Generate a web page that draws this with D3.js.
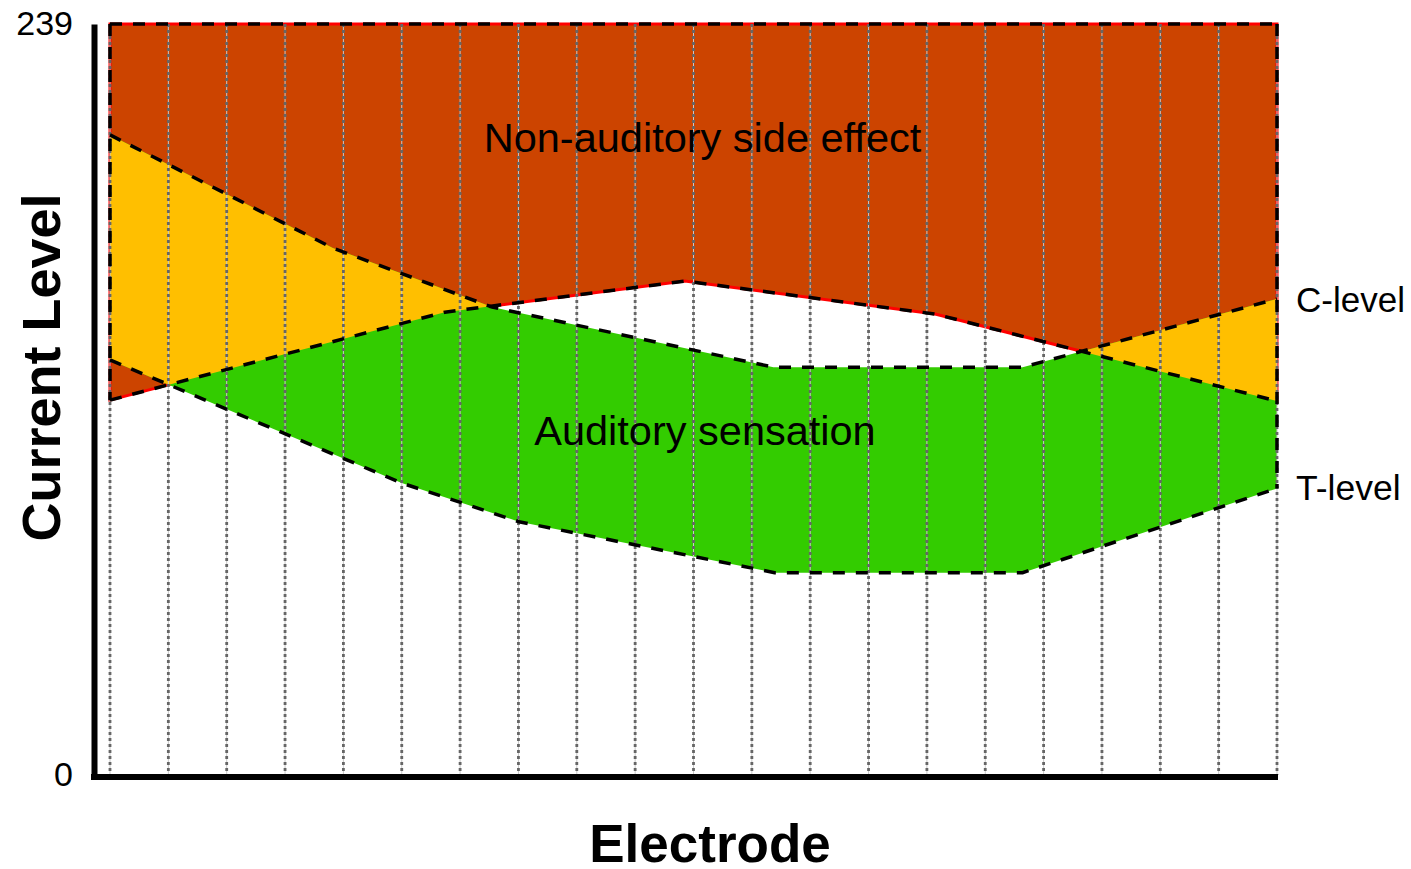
<!DOCTYPE html>
<html>
<head>
<meta charset="utf-8">
<script src="https://cdn.jsdelivr.net/npm/d3@7"></script>
<style>
  html, body { margin: 0; padding: 0; background: #fff; }
  svg { display: block; font-family: "Liberation Sans", Arial, sans-serif; }
</style>
</head>
<body>
<svg id="chart" width="1411" height="869"></svg>
<script>
// ---- data ----
const electrodes = d3.range(1, 22);           // 21 electrodes
const yTicks = [0, 239];
// C-level (comfort level) vertices: [electrode, current level]
const cLevel = [[1, 203.7], [4.82, 167.7], [7.55, 148.9], [12.37, 129.8], [16.64, 129.8], [21, 151.5]];
// T-level (threshold) vertices
const tLevel = [[1, 132.1], [6.0, 92.9], [8.01, 80.6], [12.39, 64.4], [16.64, 64.4], [21, 91.2]];
// Non-auditory side-effect threshold vertices
const sLevel = [[1, 119.3], [6.74, 147.3], [10.85, 157.2], [15.14, 146.7], [21, 119.0]];
const maxLevel = 239;
const labels = { y: "Current Level", x: "Electrode", top: "Non-auditory side effect", mid: "Auditory sensation", c: "C-level", t: "T-level" };

// ---- setup ----
const svg = d3.select("#chart");
const x = d3.scaleLinear().domain([1, 21]).range([110, 1277]);
const y = d3.scaleLinear().domain([0, 239]).range([775, 24]);

const line = d3.line().x(d => x(d[0])).y(d => y(d[1]));

const RED = "#CC4400", YELLOW = "#FFBF00", GREEN = "#33CC00";

// red region: above side-effect threshold
const redPoly = [[1, maxLevel], ...sLevel, [21, maxLevel]];
const redPath = line(redPoly) + "Z";
// auditory band between T and C
const bandPoly = [...cLevel, ...tLevel.slice().reverse()];
const bandPath = line(bandPoly) + "Z";

const defs = svg.append("defs");
defs.append("clipPath").attr("id", "redClip").append("path").attr("d", redPath);

svg.append("path").attr("d", redPath).attr("fill", RED)
  .attr("stroke", "#FF0000").attr("stroke-width", 3);
svg.append("path").attr("d", bandPath).attr("fill", GREEN);
svg.append("path").attr("d", bandPath).attr("fill", YELLOW).attr("clip-path", "url(#redClip)");

// vertical electrode grid
const grid = svg.append("g");
grid.selectAll("line.bg").data(electrodes).join("line")
  .attr("class", "bg")
  .attr("x1", d => x(d)).attr("x2", d => x(d))
  .attr("y1", y(maxLevel)).attr("y2", y(0))
  .attr("stroke", "#c8c8c8").attr("stroke-width", 1);
grid.selectAll("line.dot").data(electrodes).join("line")
  .attr("class", "dot")
  .attr("x1", d => x(d)).attr("x2", d => x(d))
  .attr("y1", y(maxLevel)).attr("y2", y(0))
  .attr("stroke", "#666666").attr("stroke-width", 2.8)
  .attr("stroke-dasharray", "3,3");

// dashed boundary lines
const dashed = svg.append("g").attr("fill", "none").attr("stroke", "#000")
  .attr("stroke-width", 3.5).attr("stroke-dasharray", "12,11");
dashed.append("path").attr("d", line([[1, maxLevel], [21, maxLevel]]));
dashed.append("path").attr("d", line([[1, maxLevel], [1, Math.min(sLevel[0][1], tLevel[0][1], cLevel[0][1])]]));
dashed.append("path").attr("d", line([[21, maxLevel], [21, Math.min(sLevel[sLevel.length-1][1], tLevel[tLevel.length-1][1], cLevel[cLevel.length-1][1])]]));
dashed.append("path").attr("d", line(sLevel));
dashed.append("path").attr("d", line(cLevel));
dashed.append("path").attr("d", line(tLevel));

// axes
const yAxis = svg.append("g").attr("transform", "translate(94,0)")
  .call(d3.axisLeft(y).tickValues(yTicks).tickSize(0).tickSizeOuter(0).tickPadding(21).tickFormat(d3.format("d")));
yAxis.select(".domain").attr("stroke", "#000").attr("stroke-width", 6);
yAxis.selectAll("text").attr("font-size", 34).attr("fill", "#000")
  .attr("font-family", "'Liberation Sans', Arial, sans-serif");

svg.append("line")
  .attr("x1", 91).attr("x2", x(21) + 1)
  .attr("y1", y(0) + 2).attr("y2", y(0) + 2)
  .attr("stroke", "#000").attr("stroke-width", 6);

// texts
svg.append("text").text(labels.y)
  .attr("transform", "translate(60,367.5) rotate(-90)")
  .attr("text-anchor", "middle").attr("font-size", 54).attr("font-weight", "bold");
svg.append("text").text(labels.x)
  .attr("x", 710).attr("y", 862)
  .attr("text-anchor", "middle").attr("font-size", 53).attr("font-weight", "bold");
svg.append("text").text(labels.top)
  .attr("x", 702.5).attr("y", 152)
  .attr("text-anchor", "middle").attr("font-size", 41.5);
svg.append("text").text(labels.mid)
  .attr("x", 705).attr("y", 445)
  .attr("text-anchor", "middle").attr("font-size", 41.5);
svg.append("text").text(labels.c)
  .attr("x", 1296).attr("y", 312).attr("font-size", 35);
svg.append("text").text(labels.t)
  .attr("x", 1296).attr("y", 500).attr("font-size", 35.5);
</script>
</body>
</html>
